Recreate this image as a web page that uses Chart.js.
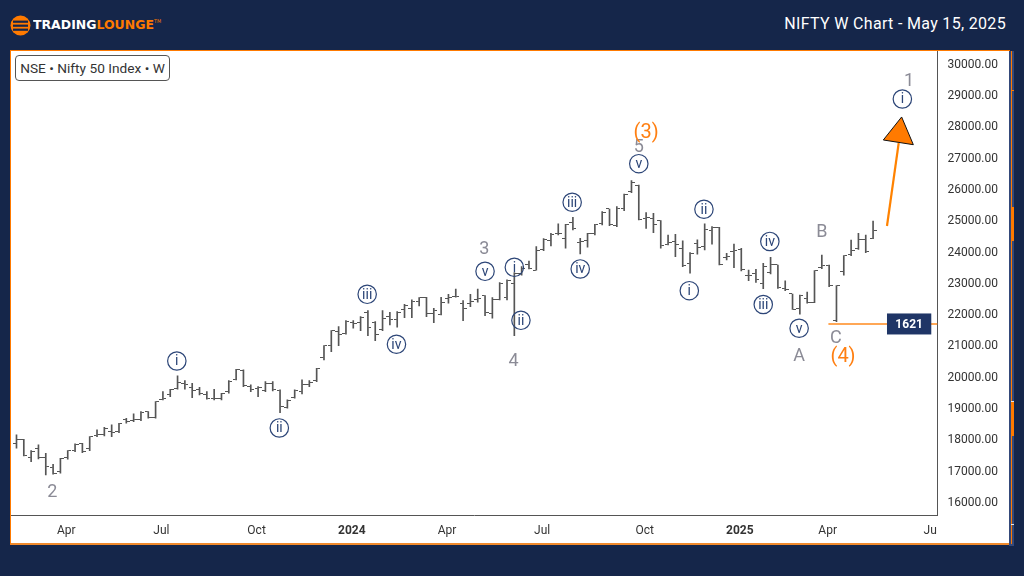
<!DOCTYPE html>
<html lang="en">
<head>
<meta charset="UTF-8">
<title>NIFTY W Chart</title>
<style>
    html, body { margin: 0; padding: 0; }
    body { width: 1024px; height: 576px; background: #15264a; overflow: hidden; position: relative; font-family: Roboto, sans-serif; }
    .logo-icon { position: absolute; left: 10px; top: 15px; }
    .logo-text { position: absolute; left: 33px; top: 17px; font: bold 13px "DejaVu Sans", sans-serif; color: #fff; white-space: nowrap; transform-origin: left center; transform: scaleX(0.96); }
    .logo-text span { color: #ff7a00; }
    .logo-text sup { font-size: 5px; color: #ff7a00; vertical-align: 6px; font-weight: normal; }
    .title { position: absolute; right: 18px; top: 14px; color: #fff; font: 400 16px Roboto, sans-serif; letter-spacing: 0.32px; white-space: nowrap; }
    .panel { position: absolute; left: 10px; top: 50px; width: 999px; height: 492px; background: #fff; border-top: 1px solid #ff7a00; border-left: 1px solid #ff7a00; border-bottom: 2px solid #f08a2c; }
    #c { display: block; }
    .side { position: absolute; left: 1009px; top: 51px; width: 5px; height: 495px; background: #34497a; }
    .side i { position: absolute; display: block; }
    .symbol { position: absolute; left: 15px; top: 55px; width: 153px; height: 24px; border: 1px solid #555; border-radius: 4px; background: #fff; color: #333; font: 13.7px/24px Roboto, sans-serif; text-align: center; white-space: nowrap; }
</style>
</head>
<body>
<svg class="logo-icon" width="21" height="21" viewBox="0 0 21 21">
    <circle cx="10.5" cy="10.5" r="10" fill="#ff7a00"/>
    <rect x="3" y="5.6" width="15" height="2.2" fill="#15264a"/>
    <rect x="3" y="9.6" width="15" height="2.2" fill="#15264a"/>
    <rect x="3" y="13.6" width="15" height="2.2" fill="#15264a"/>
</svg>
<div class="logo-text">TRADING<span>LOUNGE</span><sup>TM</sup></div>
<div class="title">NIFTY W Chart - May 15, 2025</div>
<div class="panel"><canvas id="c"></canvas></div>
<div class="side">
    <i style="left:2px;top:0;width:1px;height:493px;background:#ff7a00"></i>
    <i style="left:2px;top:156px;width:3px;height:34px;background:#ff7a00"></i>
    <i style="left:2px;top:351px;width:3px;height:34px;background:#ff7a00"></i>
    <i style="left:2px;top:39px;width:3px;height:1px;background:#ff7a00"></i>
    <i style="left:2px;top:350px;width:3px;height:1px;background:#e8e8e8"></i>
    <i style="left:2px;top:473px;width:3px;height:1px;background:#e8e8e8"></i>
</div>
<div class="symbol">NSE • Nifty 50 Index • W</div>

<script src="https://cdn.jsdelivr.net/npm/chart.js"></script>
<script>
// weekly bars, first week = 13 Feb 2023
var opens = [17855,17983,17408,17696,17408,17089,16950,17408,17621,17834,17696,18090,18122,18228,18218,18622,18580,18601,18867,18676,
    19261,19400,19613,19772,19645,19559,19400,19293,19272,19506,19900,20177,19666,19613,19528,19772,19538,19006,19325,19506,
    19719,19847,20604,20966,21424,21350,21712,21722,22031,21722,21477,21903,21797,22116,22170,22383,22521,21989,21978,22468,
    22542,22329,22329,22457,22574,22010,22436,22521,22968,23267,23554,23384,24034,24322,24566,24407,24918,24279,24322,24545,
    24865,25344,24812,25365,25898,26089,25024,25024,24971,24194,24300,24087,23608,24247,24140,24652,24758,23799,23980,24033,
    23213,23266,22947,23309,23554,22808,22627,22169,22489,22361,23479,23522,21765,23341,23873,24086,24374,24406];
var highs = [18122,17983,17621,17802,17536,17185,17376,17621,17834,17855,18068,18281,18367,18441,18494,18654,18793,18867,18867,19187,
    19506,19581,20007,19858,19772,19645,19506,19581,19453,19858,20220,20199,19719,19666,19826,19826,19559,19240,19559,19879,
    19858,20252,20977,21456,21584,21776,21776,21903,22095,21744,22095,22042,22063,22298,22436,22511,22521,22170,22521,22617,
    22787,22415,22617,22787,22574,22511,22990,23075,23309,23501,23682,24140,24396,24566,24865,24854,25078,24407,24566,24854,
    25259,25344,25418,25823,26249,26111,25227,25205,24971,24513,24535,24322,23949,24354,24865,24779,24758,23926,24225,24086,
    23394,23415,23607,23799,23554,23043,22627,22595,22691,23373,23873,23554,22893,23852,24353,24565,24512,24960];
var lows = [17696,17451,17270,17355,16844,16865,16897,17344,17589,17557,17621,18068,18090,18068,18196,18494,18548,18580,18654,18654,
    19240,19347,19581,19581,19315,19400,19261,19240,19240,19453,19879,19666,19506,19347,19506,19528,18835,18974,19293,19432,
    19666,19826,20519,20785,20977,21339,21531,21456,21296,21137,21456,21637,21563,21872,21872,22244,21903,21712,21957,22329,
    22521,21776,22223,22361,21935,21850,22436,22436,21296,23224,23426,23384,24012,24162,24513,24087,24673,23906,24119,24513,
    24833,24812,24780,25291,25866,24992,24726,24588,24087,24194,23821,23501,23288,23896,24034,24215,23555,23713,23469,23362,
    23053,23000,22798,23266,22808,22734,22137,21978,22329,22350,23437,22861,21743,23224,23852,24054,23948,24395];
var closes = [17983,17451,17589,17408,17110,16897,17355,17611,17824,17589,18058,18122,18335,18207,18473,18548,18601,18846,18676,19176,
    19293,19559,19794,19730,19538,19432,19293,19293,19432,19826,20199,19687,19559,19634,19772,19559,19027,19219,19528,19719,
    19794,20230,20966,21446,21339,21744,21690,21882,21563,21339,21850,21797,22042,22244,22383,22511,22010,22095,22351,22521,
    22542,22148,22383,22468,22031,22436,22947,23043,23267,23448,23448,24012,24353,24513,24545,24833,24705,24300,24545,24833,
    25227,24854,25365,25791,26185,25014,25078,24854,24162,24279,24194,23523,23906,24119,24694,24758,23576,23820,24012,23394,
    23213,23074,23501,23554,22840,22776,22137,22574,22361,23373,23522,22883,22883,23852,24012,24374,23980,24651];

// value axis
var priceTicks = [16000,17000,18000,19000,20000,21000,22000,23000,24000,25000,26000,27000,28000,29000,30000];
// time axis: bar index of each month label
var timeTicks = [7,20,33,46,59,72,86,99,111,125];
var timeLabels = ['Apr','Jul','Oct','2024','Apr','Jul','Oct','2025','Apr','Ju'];

// wave counts: [text, week, price]
var circledLabels = [['i',21.9,20485],['ii',35.9,18344],['iii',47.9,22617],['iv',51.9,21019],['v',64,23352],
    ['i',68,23480],['ii',68.9,21786],['iii',75.9,25558],['iv',77,23426],['v',85,26791],
    ['i',91.9,22732],['ii',93.9,25334],['iii',102,22291],['iv',102.9,24305],['v',106.9,21531],['i',121,28859]];
var greyLabels = [['2',4.9,16331],['3',63.9,24087],['4',67.9,20527],['5',85,27357],['A',106.9,20668],['B',110,24650],['C',111.9,21262],['1',121.9,29466]];
var orangeLabels = [['(3)',86,27814],['(4)',112.9,20645]];

var targetPrice = 21668;
var targetLabel = '1621';
var arrowX = [118.9,120.5];
var arrowY = [24800,27453];
var arrowHeadX = [120.9,118.4,122.5];
var arrowHeadY = [28284,27549,27398];

var weeks = opens.map(function (v, i) { return i; });

// open / close ticks are small images used as point styles
function tickImage(side) {
    var cv = document.createElement('canvas');
    cv.width = 7; cv.height = 1;
    var g = cv.getContext('2d');
    g.fillStyle = '#555';
    g.fillRect(side < 0 ? 0 : 4, 0, 3, 1);
    return cv;
}

// tick labels must not shrink the plot area
function noPadding(axis) {
    axis.paddingTop = axis.paddingBottom = axis.paddingLeft = axis.paddingRight = 0;
}

var waveLabels = {
    id: 'waveLabels',
    afterDatasetsDraw: function (chart) {
        var g = chart.ctx, xs = chart.scales.x, ys = chart.scales.y;
        g.save();
        g.textAlign = 'center';
        g.textBaseline = 'middle';

        // arrow head
        g.beginPath();
        arrowHeadX.forEach(function (v, i) {
            g.lineTo(xs.getPixelForValue(v), ys.getPixelForValue(arrowHeadY[i]));
        });
        g.closePath();
        g.fillStyle = '#ff7a00';
        g.fill();
        g.strokeStyle = '#111';
        g.lineWidth = 1;
        g.stroke();

        circledLabels.forEach(function (l) {
            var x = xs.getPixelForValue(l[1]), y = ys.getPixelForValue(l[2]);
            g.beginPath();
            g.arc(x, y, 9.2, 0, Math.PI * 2);
            g.strokeStyle = '#2c4577';
            g.lineWidth = 1.2;
            g.stroke();
            g.fillStyle = '#2c4577';
            g.font = '14px Roboto';
            g.fillText(l[0], x, y + 1);
        });
        g.fillStyle = '#8b8b96';
        g.font = '18px Roboto';
        greyLabels.forEach(function (l) {
            g.fillText(l[0], xs.getPixelForValue(l[1]), ys.getPixelForValue(l[2]) + 1.5);
        });
        g.fillStyle = '#ff7f11';
        g.font = '20px Roboto';
        orangeLabels.forEach(function (l) {
            g.fillText(l[0], xs.getPixelForValue(l[1]), ys.getPixelForValue(l[2]) + 1.5);
        });

        // value box on the target line
        var boxLeft = xs.getPixelForValue(118.9), boxRight = xs.getPixelForValue(124.95), boxMid = ys.getPixelForValue(targetPrice);
        g.fillStyle = '#1f3566';
        g.fillRect(boxLeft, boxMid - 10.5, boxRight - boxLeft, 21);
        g.fillStyle = '#fff';
        g.font = 'bold 12px Roboto';
        g.fillText(targetLabel, (boxLeft + boxRight) / 2, boxMid + 1);
        g.restore();
    }
};

var canvas = document.getElementById('c');
canvas.style.width = '999px';
canvas.style.height = '492px';

new Chart(canvas, {
    type: 'bar',
    data: {
        datasets: [
            {
                label: 'range',
                data: weeks.map(function (w) { return { x: w, y: [lows[w], highs[w]] }; }),
                backgroundColor: '#555',
                barThickness: 1,
                grouped: false
            },
            {
                type: 'line',
                label: 'open',
                data: weeks.map(function (w) { return { x: w, y: opens[w] }; }),
                showLine: false,
                pointStyle: tickImage(-1),
                pointRadius: 3
            },
            {
                type: 'line',
                label: 'close',
                data: weeks.map(function (w) { return { x: w, y: closes[w] }; }),
                showLine: false,
                pointStyle: tickImage(1),
                pointRadius: 3
            },
            {
                type: 'line',
                label: 'target',
                data: [{ x: 110.9, y: targetPrice }, { x: 125.8, y: targetPrice }],
                borderColor: '#ff8a1e',
                borderWidth: 1.5,
                pointRadius: 0
            },
            {
                type: 'line',
                label: 'arrow',
                data: arrowX.map(function (x, i) { return { x: x, y: arrowY[i] }; }),
                borderColor: '#ff8200',
                borderWidth: 2.2,
                pointRadius: 0
            }
        ]
    },
    options: {
        responsive: false,
        animation: false,
        events: [],
        layout: { padding: 0, autoPadding: false },
        plugins: { legend: { display: false }, tooltip: { enabled: false } },
        scales: {
            x: {
                type: 'linear',
                offset: false,
                min: -0.75,
                max: 125.8,
                grid: { display: false, drawTicks: false },
                border: { color: '#555', width: 1 },
                afterBuildTicks: function (axis) {
                    axis.ticks = timeTicks.map(function (v) { return { value: v }; });
                },
                afterFit: function (axis) { axis.height = 28; noPadding(axis); },
                ticks: {
                    autoSkip: false,
                    maxRotation: 0,
                    padding: 8.5,
                    labelOffset: -1.5,
                    color: '#333',
                    font: function (ctx) {
                        var t = timeLabels[ctx.index];
                        return { family: 'Roboto', size: 12, weight: t && t.length === 4 ? 'bold' : 'normal' };
                    },
                    callback: function (v) { return timeLabels[timeTicks.indexOf(v)]; }
                }
            },
            y: {
                position: 'right',
                min: 15562,
                max: 30393,
                grid: { display: false, drawTicks: true, tickLength: 4, tickColor: '#555' },
                border: { color: '#555', width: 1 },
                afterBuildTicks: function (axis) {
                    axis.ticks = priceTicks.map(function (v) { return { value: v }; });
                },
                afterFit: function (axis) { axis.width = 72.5; noPadding(axis); },
                ticks: {
                    padding: 6,
                    labelOffset: 1.5,
                    color: '#333',
                    font: { family: 'Roboto', size: 12 },
                    callback: function (v) { return v.toFixed(2); }
                }
            }
        }
    },
    plugins: [waveLabels]
});
</script>
</body>
</html>
